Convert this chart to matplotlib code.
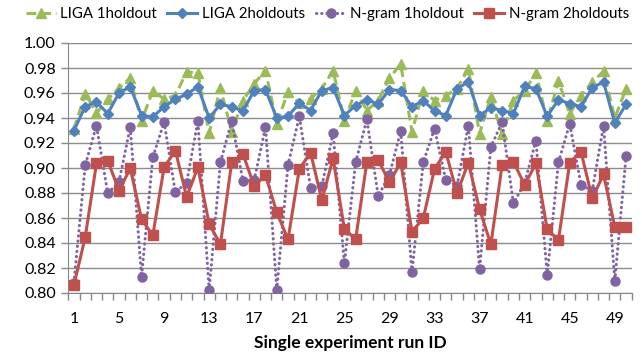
import matplotlib
matplotlib.use("Agg")
import matplotlib.pyplot as plt
import numpy as np

run_ids = list(range(1, 51))
tick_labels = [str(i) for i in range(1, 51, 4)]

liga_1holdout = [0.931, 0.9595, 0.944, 0.955, 0.964, 0.972, 0.9375, 0.962, 0.955, 0.958,
                 0.977, 0.976, 0.928, 0.964, 0.929, 0.954, 0.9675, 0.978, 0.9355, 0.961,
                 0.952, 0.9555, 0.9635, 0.978, 0.938, 0.9616, 0.946, 0.954, 0.972, 0.983,
                 0.929, 0.9616, 0.954, 0.958, 0.9635, 0.9795, 0.9275, 0.957, 0.927, 0.954,
                 0.962, 0.976, 0.9376, 0.9696, 0.9435, 0.958, 0.9688, 0.9773, 0.940, 0.9635]

liga_2holdouts = [0.930, 0.949, 0.953, 0.9435, 0.960, 0.965, 0.942, 0.941, 0.949, 0.955,
                  0.959, 0.965, 0.940, 0.951, 0.949, 0.9456, 0.962, 0.9627, 0.940, 0.9413,
                  0.952, 0.946, 0.962, 0.9643, 0.942, 0.950, 0.9547, 0.951, 0.9627, 0.962,
                  0.949, 0.954, 0.9456, 0.942, 0.9635, 0.9688, 0.942, 0.9483, 0.946, 0.9435,
                  0.9653, 0.9635, 0.9413, 0.9547, 0.9515, 0.949, 0.9643, 0.9688, 0.936, 0.951]

ngram_1holdout = [0.8083, 0.9021, 0.934, 0.8797, 0.889, 0.9328, 0.813, 0.9085, 0.9368, 0.8805,
                  0.8883, 0.9376, 0.8024, 0.9045, 0.9376, 0.8896, 0.8904, 0.9328, 0.8024, 0.9024,
                  0.9413, 0.8843, 0.8856, 0.928, 0.8237, 0.9045, 0.939, 0.8776, 0.8944, 0.9296,
                  0.8165, 0.9045, 0.9315, 0.8904, 0.8856, 0.934, 0.8189, 0.9168, 0.9368, 0.8717,
                  0.888, 0.922, 0.8144, 0.9045, 0.9355, 0.8864, 0.882, 0.934, 0.8096, 0.9096]

ngram_2holdouts = [0.8064, 0.8445, 0.9037, 0.9059, 0.8819, 0.8997, 0.8592, 0.8461, 0.9005, 0.9139,
                   0.877, 0.9005, 0.8552, 0.8389, 0.9045, 0.9112, 0.8856, 0.8944, 0.8645, 0.8429,
                   0.8992, 0.9123, 0.8744, 0.9077, 0.8512, 0.8429, 0.9051, 0.9064, 0.8885, 0.9045,
                   0.849, 0.8597, 0.8992, 0.913, 0.8797, 0.9043, 0.867, 0.8389, 0.9024, 0.9051,
                   0.8864, 0.9037, 0.8509, 0.8424, 0.9043, 0.913, 0.8757, 0.8949, 0.853, 0.8525]

plt.rcParams['font.family'] = ['Lato', 'DejaVu Sans']

fig = plt.figure(figsize=(6.42, 3.60), dpi=100)
ax = fig.add_axes([68.3/642, 1 - 293/360, (631.7-68.3)/642, (293-43)/360])

GREEN = '#9BBB59'
BLUE = '#4F81BD'
PURPLE = '#8064A2'
RED = '#C0504D'

ax.plot(run_ids, liga_1holdout, color=GREEN, lw=2.2, ls=(0, (3.2, 1.6)),
        marker='^', ms=7.5, mec=GREEN, mfc=GREEN, label='LIGA 1holdout', zorder=3)
ax.plot(run_ids, liga_2holdouts, color=BLUE, lw=2.2, marker='D', ms=5.5,
        mec=BLUE, mfc=BLUE, label='LIGA 2holdouts', zorder=4)
ax.plot(run_ids, ngram_1holdout, color=PURPLE, lw=2.2, ls=(0, (0.1, 1.6)),
        dash_capstyle='round', marker='o', ms=6.5, mec=PURPLE, mfc=PURPLE,
        label='N-gram 1holdout', zorder=5)
ax.plot(run_ids, ngram_2holdouts, color=RED, lw=2.2, marker='s', ms=6.5,
        mec=RED, mfc=RED, label='N-gram 2holdouts', zorder=6)

ax.set_xlim(0.5, 50.5)
ax.set_ylim(0.80, 1.00)
ax.set_yticks(np.arange(0.80, 1.001, 0.02))
ax.set_yticklabels([f"{v:.2f}" for v in np.arange(0.80, 1.001, 0.02)])
ax.set_xticks(list(range(1, 51, 4)))
ax.set_xticklabels(tick_labels)
ax.set_xticks(np.arange(0.5, 51, 1.0), minor=True)

ax.tick_params(axis='y', which='major', length=5, width=1, color='#888888',
               labelsize=11.5, pad=4)
ax.tick_params(axis='x', which='major', length=0, labelsize=11.5, pad=14)
ax.tick_params(axis='x', which='minor', length=5, width=1, color='#888888', direction='out')

ax.grid(axis='y', color='#8C8C8C', lw=1)
ax.set_axisbelow(True)
for s in ['top', 'right']:
    ax.spines[s].set_visible(False)
ax.spines['left'].set_color('#888888')
ax.spines['bottom'].set_color('#888888')

ax.set_xlabel('Single experiment run ID', fontsize=12.5, fontweight='bold', labelpad=6)

leg = fig.legend(loc='upper center', bbox_to_anchor=(0.51, 1.005), ncol=4, frameon=False,
                 fontsize=10.8, handlelength=2.0, columnspacing=0.7, handletextpad=0.3,
                 borderaxespad=0.2)

fig.savefig('out.png', dpi=100)
